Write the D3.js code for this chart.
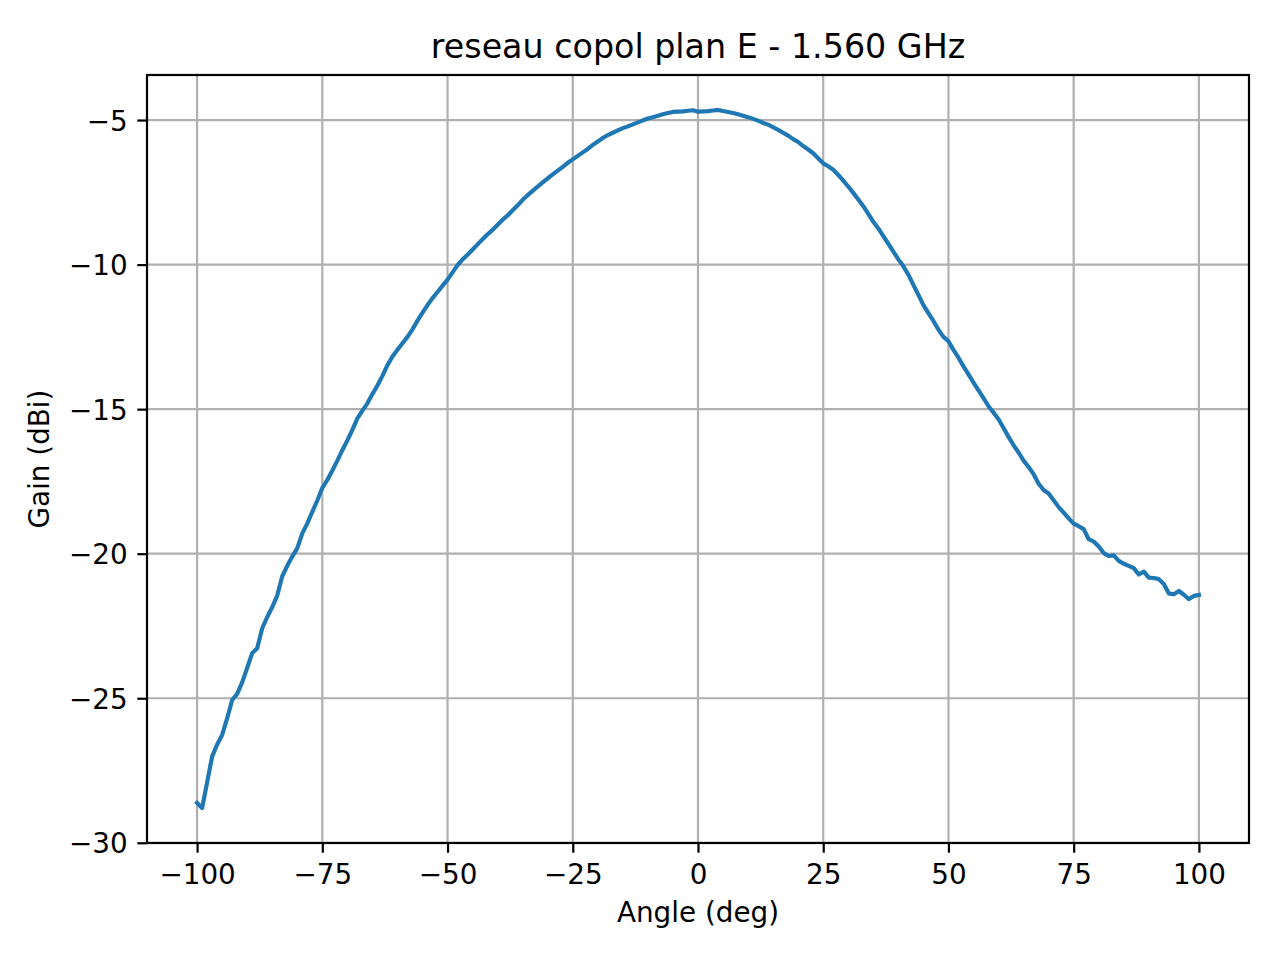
<!DOCTYPE html>
<html>
<head>
<meta charset="utf-8">
<script src="https://cdn.jsdelivr.net/npm/d3@7"></script>
<style>
  body { margin: 0; background: #fff; }
  svg { display: block; font-family: "DejaVu Sans", sans-serif; }
</style>
</head>
<body>
<svg id="chart"></svg>
<script>
// measured angles (deg)
const angles = [
  -100, -99, -98, -97, -96, -95, -94, -93, -92, -91,
  -90, -89, -88, -87, -86, -85, -84, -83, -82, -81,
  -80, -79, -78, -77, -76, -75, -74, -73, -72, -71,
  -70, -69, -68, -67, -66, -65, -64, -63, -62, -61,
  -60, -59, -58, -57, -56, -55, -54, -53, -52, -51,
  -50, -49, -48, -47, -46, -45, -44, -43, -42, -41,
  -40, -39, -38, -37, -36, -35, -34, -33, -32, -31,
  -30, -29, -28, -27, -26, -25, -24, -23, -22, -21,
  -20, -19, -18, -17, -16, -15, -14, -13, -12, -11,
  -10, -9, -8, -7, -6, -5, -4, -3, -2, -1,
  0, 1, 2, 3, 4, 5, 6, 7, 8, 9,
  10, 11, 12, 13, 14, 15, 16, 17, 18, 19,
  20, 21, 22, 23, 24, 25, 26, 27, 28, 29,
  30, 31, 32, 33, 34, 35, 36, 37, 38, 39,
  40, 41, 42, 43, 44, 45, 46, 47, 48, 49,
  50, 51, 52, 53, 54, 55, 56, 57, 58, 59,
  60, 61, 62, 63, 64, 65, 66, 67, 68, 69,
  70, 71, 72, 73, 74, 75, 76, 77, 78, 79,
  80, 81, 82, 83, 84, 85, 86, 87, 88, 89,
  90, 91, 92, 93, 94, 95, 96, 97, 98, 99, 100
];

// copol gain (dBi)
const gain = [
  -28.62, -28.80, -27.91, -27.02, -26.60, -26.27, -25.70, -25.06, -24.85, -24.45,
  -23.95, -23.44, -23.27, -22.58, -22.19, -21.85, -21.45, -20.78, -20.42, -20.10,
  -19.81, -19.30, -18.95, -18.55, -18.16, -17.72, -17.45, -17.12, -16.78, -16.42,
  -16.08, -15.72, -15.32, -15.05, -14.80, -14.48, -14.18, -13.85, -13.48, -13.18,
  -12.95, -12.72, -12.50, -12.24, -11.94, -11.66, -11.40, -11.16, -10.95, -10.73,
  -10.52, -10.27, -10.02, -9.82, -9.66, -9.48, -9.30, -9.12, -8.95, -8.80,
  -8.62, -8.45, -8.30, -8.12, -7.95, -7.76, -7.60, -7.45, -7.30, -7.16,
  -7.02, -6.88, -6.75, -6.62, -6.48, -6.36, -6.24, -6.12, -6.00, -5.86,
  -5.74, -5.62, -5.52, -5.44, -5.36, -5.28, -5.22, -5.15, -5.08, -5.01,
  -4.95, -4.90, -4.85, -4.80, -4.76, -4.72, -4.71, -4.70, -4.68, -4.66,
  -4.71, -4.70, -4.69, -4.67, -4.65, -4.69, -4.72, -4.76, -4.80, -4.85,
  -4.90, -4.96, -5.02, -5.10, -5.16, -5.25, -5.34, -5.44, -5.54, -5.66,
  -5.76, -5.90, -6.02, -6.15, -6.32, -6.50, -6.60, -6.72, -6.90, -7.10,
  -7.30, -7.52, -7.75, -7.98, -8.25, -8.52, -8.75, -9.02, -9.28, -9.55,
  -9.82, -10.06, -10.35, -10.70, -11.05, -11.40, -11.68, -11.95, -12.25, -12.50,
  -12.65, -12.95, -13.22, -13.52, -13.80, -14.08, -14.35, -14.62, -14.90, -15.12,
  -15.35, -15.65, -15.96, -16.25, -16.50, -16.78, -17.00, -17.25, -17.58, -17.80,
  -17.92, -18.15, -18.39, -18.58, -18.78, -18.96, -19.05, -19.15, -19.50, -19.58,
  -19.75, -19.98, -20.08, -20.06, -20.25, -20.35, -20.42, -20.50, -20.72, -20.62,
  -20.83, -20.84, -20.88, -21.05, -21.38, -21.40, -21.29, -21.42, -21.57, -21.46, -21.43
];

const xTicks = [-100, -75, -50, -25, 0, 25, 50, 75, 100];
const yTicks = [-30, -25, -20, -15, -10, -5];

const titleText = "reseau copol plan E - 1.560 GHz";
const xLabel = "Angle (deg)";
const yLabel = "Gain (dBi)";

// setting up svg
const W = 1280, H = 960;
const box = { left: 147, right: 1249, top: 75, bottom: 843 };
const tickFont = 27.8;
const tickLen = 9.7, tickPad = 9.7;

const svg = d3.select('#chart')
  .attr('width', W)
  .attr('height', H);

// scales, with matplotlib style 5% margins
const xScale = d3.scaleLinear()
  .domain([-110, 110])
  .range([box.left, box.right]);
const [gMin, gMax] = d3.extent(gain);
const pad = (gMax - gMin) * 0.05;
const yScale = d3.scaleLinear()
  .domain([gMin - pad, gMax + pad])
  .range([box.bottom, box.top]);

const fmt = v => (v < 0 ? '\u2212' + Math.abs(v) : '' + v);

// grid
const grid = svg.append('g').attr('stroke', '#b0b0b0').attr('stroke-width', 2.2);
grid.selectAll('.gx').data(xTicks).join('line')
  .attr('x1', d => xScale(d)).attr('x2', d => xScale(d))
  .attr('y1', box.top).attr('y2', box.bottom);
grid.selectAll('.gy').data(yTicks).join('line')
  .attr('y1', d => yScale(d)).attr('y2', d => yScale(d))
  .attr('x1', box.left).attr('x2', box.right);

// the curve
const line = d3.line()
  .x((d, i) => xScale(angles[i]))
  .y(d => yScale(d));
svg.append('path')
  .datum(gain)
  .attr('d', line)
  .attr('fill', 'none')
  .attr('stroke', '#1f77b4')
  .attr('stroke-width', 4.17)
  .attr('stroke-linejoin', 'round')
  .attr('stroke-linecap', 'square');

// axes
const xAxis = d3.axisBottom(xScale)
  .tickValues(xTicks)
  .tickSize(tickLen)
  .tickPadding(tickPad)
  .tickFormat(fmt);
const yAxis = d3.axisLeft(yScale)
  .tickValues(yTicks)
  .tickSize(tickLen)
  .tickPadding(tickPad)
  .tickFormat(fmt);

const gx = svg.append('g')
  .attr('transform', `translate(0, ${box.bottom})`)
  .call(xAxis);
const gy = svg.append('g')
  .attr('transform', `translate(${box.left}, 0)`)
  .call(yAxis);

[gx, gy].forEach(g => {
  g.select('.domain').remove();
  g.selectAll('.tick line').attr('stroke', '#000').attr('stroke-width', 2.2);
  g.selectAll('.tick text')
    .attr('fill', '#000')
    .attr('font-family', '"DejaVu Sans", sans-serif')
    .attr('font-size', tickFont);
});
gx.selectAll('.tick text').attr('dy', null).attr('y', tickLen + tickPad + 0.78 * tickFont);
gy.selectAll('.tick text').attr('dy', '0.36em');

// frame
svg.append('rect')
  .attr('x', box.left).attr('y', box.top)
  .attr('width', box.right - box.left).attr('height', box.bottom - box.top)
  .attr('fill', 'none').attr('stroke', '#000').attr('stroke-width', 2.2);

// labels
const cx = (box.left + box.right) / 2;
svg.append('text')
  .attr('x', cx).attr('y', 58)
  .attr('text-anchor', 'middle')
  .attr('font-size', 33.3)
  .text(titleText);
svg.append('text')
  .attr('x', cx).attr('y', 922)
  .attr('text-anchor', 'middle')
  .attr('font-size', tickFont)
  .text(xLabel);
svg.append('text')
  .attr('transform', `translate(49, ${(box.top + box.bottom) / 2}) rotate(-90)`)
  .attr('text-anchor', 'middle')
  .attr('font-size', tickFont)
  .text(yLabel);
</script>
</body>
</html>
